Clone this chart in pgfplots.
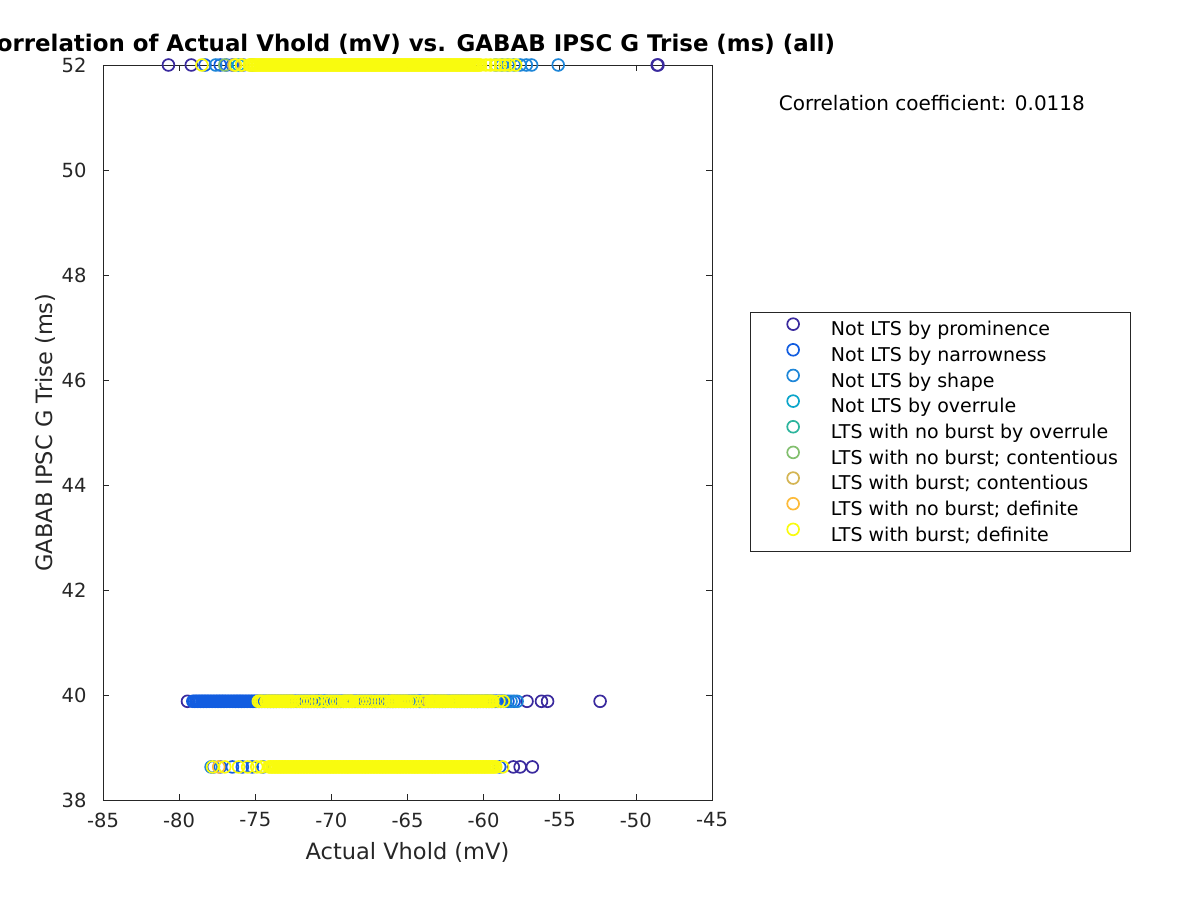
\documentclass[border=0pt]{standalone}
\usepackage{fontspec}
\setmainfont{DejaVu Sans}
\usepackage{pgfplots}
\pgfplotsset{compat=1.18}
\definecolor{c1}{HTML}{3A2A9E}
\definecolor{c2}{HTML}{125DE0}
\definecolor{c3}{HTML}{1E86D8}
\definecolor{c4}{HTML}{0AA5CA}
\definecolor{c5}{HTML}{2DB59D}
\definecolor{c6}{HTML}{82BF6E}
\definecolor{c7}{HTML}{D4B553}
\definecolor{c8}{HTML}{FDBB3A}
\definecolor{c9}{HTML}{F9FB0E}
\definecolor{axgray}{HTML}{262626}
\pgfplotsset{sc/.style={only marks, mark=o, mark size=5.9pt, line width=1.7pt, color=#1}}
\begin{document}
\begin{tikzpicture}
\path[use as bounding box, clip] (0pt,0pt) rectangle (1200pt,900pt);
\begin{axis}[
  at={(103pt,100pt)}, anchor=south west,
  scale only axis, width=609pt, height=735pt,
  xmin=-85, xmax=-45, ymin=38, ymax=52,
  xtick={-85,-80,-75,-70,-65,-60,-55,-50,-45},
  xticklabels={-85,-80,-75,-70,-65,-60,-55,-50,-45},
  ytick={38,40,42,44,46,48,50,52},
  yticklabels={38,40,42,44,46,48,50,52},
  tick align=inside, tick pos=both, major tick length=6pt,
  axis line style={axgray, line width=0.6pt},
  every tick/.style={axgray, line width=0.6pt},
  ticklabel style={font=\fontsize{19.5}{23}\selectfont, text=axgray},
  xticklabel style={yshift=-9pt},
  yticklabel style={xshift=-13pt},
  xlabel={Actual Vhold (mV)},
  ylabel={GABAB IPSC G Trise (ms)},
  label style={font=\fontsize{22.5}{27}\selectfont, text=axgray},
  xlabel style={at={(axis description cs:0.5,0)}, anchor=center, yshift=-52pt},
  ylabel style={at={(axis description cs:0,0.5)}, anchor=center, yshift=58pt},
  title={Correlation of Actual Vhold (mV) vs. GABAB IPSC G Trise (ms) (all)},
  title style={font=\fontsize{22.9}{27}\selectfont\bfseries, at={(0.5,1)}, anchor=south, inner sep=0pt, yshift=4pt},
  clip=false,
  legend cell align=left,
  legend style={at={(1.0624,0.664)}, anchor=north west, draw=axgray, line width=0.6pt,
    font=\fontsize{19}{22}\selectfont, inner xsep=12pt, inner ysep=6pt,
    nodes={inner sep=0pt, text height=14pt, text depth=4.5pt},
    row sep=3.5pt, column sep=7pt},
  legend image code/.code={\path (-30pt,0pt) (30pt,0pt); \draw[#1] plot coordinates {(0pt,7pt)};},
]
% 1 Not LTS by prominence
\addplot[sc=c1] coordinates {(-80.7,52) (-79.2,52) (-48.6,52) (-48.55,52)
 (-79.45,39.88) (-57.15,39.88) (-56.2,39.88) (-55.8,39.88) (-52.35,39.88)
 (-58.05,38.63) (-57.6,38.63) (-56.8,38.63)};
\addlegendentry{Not LTS by prominence}
% 2 Not LTS by narrowness
\addplot[sc=c2] coordinates {(-78.3,52) (-77.3,52) (-76.9,52) (-76.5,52) (-75.8,52) (-75.2,52)
 (-79.1,39.88) (-79.0,39.88) (-78.9,39.88) (-78.8,39.88) (-78.7,39.88) (-78.6,39.88) (-78.5,39.88) (-78.4,39.88) (-78.3,39.88) (-78.2,39.88)
 (-78.1,39.88) (-78.0,39.88) (-77.9,39.88) (-77.8,39.88) (-77.7,39.88) (-77.6,39.88) (-77.5,39.88) (-77.4,39.88) (-77.3,39.88) (-77.2,39.88)
 (-77.1,39.88) (-77.0,39.88) (-76.9,39.88) (-76.8,39.88) (-76.7,39.88) (-76.6,39.88) (-76.5,39.88) (-76.4,39.88) (-76.3,39.88) (-76.2,39.88)
 (-76.1,39.88) (-76.0,39.88) (-75.9,39.88) (-75.8,39.88) (-75.7,39.88) (-75.6,39.88) (-75.5,39.88) (-75.4,39.88) (-75.3,39.88) (-75.2,39.88)
 (-75.1,39.88) (-75.0,39.88) (-74.9,39.88) (-74.8,39.88) (-74.7,39.88) (-74.6,39.88) (-74.5,39.88) (-74.4,39.88) (-74.3,39.88) (-74.2,39.88)
 (-74.1,39.88) (-74.0,39.88) (-73.9,39.88) (-73.8,39.88) (-73.7,39.88) (-73.6,39.88) (-73.5,39.88) (-73.4,39.88) (-73.3,39.88) (-73.2,39.88)
 (-73.1,39.88) (-73.0,39.88) (-72.9,39.88) (-72.8,39.88) (-72.7,39.88) (-72.6,39.88) (-72.5,39.88) (-72.4,39.88) (-72.3,39.88) (-72.2,39.88)
 (-72.1,39.88) (-72.0,39.88) (-71.9,39.88) (-71.8,39.88) (-71.7,39.88) (-71.6,39.88) (-71.5,39.88) (-71.4,39.88) (-71.3,39.88) (-71.2,39.88)
 (-71.1,39.88) (-71.0,39.88) (-70.9,39.88) (-70.8,39.88) (-70.7,39.88) (-70.6,39.88) (-70.5,39.88) (-70.4,39.88) (-70.3,39.88) (-70.2,39.88)
 (-70.1,39.88) (-70.0,39.88) (-69.9,39.88) (-69.8,39.88) (-69.7,39.88) (-69.6,39.88) (-69.5,39.88) (-69.4,39.88) (-69.3,39.88) (-69.2,39.88)
 (-69.1,39.88) (-69.0,39.88) (-68.9,39.88) (-68.8,39.88) (-68.7,39.88) (-68.6,39.88) (-68.5,39.88) (-68.4,39.88) (-68.3,39.88) (-68.2,39.88)
 (-68.1,39.88) (-68.0,39.88) (-67.9,39.88) (-67.8,39.88) (-67.7,39.88) (-67.6,39.88) (-67.5,39.88) (-67.4,39.88) (-67.3,39.88) (-67.2,39.88)
 (-67.1,39.88) (-67.0,39.88) (-66.9,39.88) (-66.8,39.88) (-66.7,39.88) (-66.6,39.88) (-66.5,39.88) (-66.4,39.88) (-66.3,39.88) (-66.2,39.88)
 (-66.1,39.88) (-66.0,39.88) (-65.9,39.88) (-65.8,39.88) (-65.7,39.88) (-65.6,39.88) (-65.5,39.88) (-65.4,39.88) (-65.3,39.88) (-65.2,39.88)
 (-65.1,39.88) (-65.0,39.88) (-64.9,39.88) (-64.8,39.88) (-64.7,39.88) (-64.6,39.88) (-64.5,39.88) (-64.4,39.88) (-64.3,39.88) (-64.2,39.88)
 (-64.1,39.88) (-64.0,39.88) (-63.9,39.88) (-63.8,39.88) (-63.7,39.88) (-63.6,39.88) (-63.5,39.88) (-63.4,39.88) (-63.3,39.88) (-63.2,39.88)
 (-63.1,39.88) (-63.0,39.88) (-62.9,39.88) (-62.8,39.88) (-62.7,39.88) (-62.6,39.88) (-62.5,39.88) (-62.4,39.88) (-62.3,39.88) (-62.2,39.88)
 (-62.1,39.88) (-62.0,39.88) (-61.9,39.88) (-61.8,39.88) (-61.7,39.88) (-61.6,39.88) (-61.5,39.88) (-61.4,39.88) (-61.3,39.88) (-61.2,39.88)
 (-61.1,39.88) (-61.0,39.88) (-60.9,39.88) (-60.8,39.88) (-60.7,39.88) (-60.6,39.88) (-60.5,39.88) (-60.4,39.88) (-60.3,39.88) (-60.2,39.88)
 (-60.1,39.88) (-60.0,39.88) (-59.9,39.88) (-59.8,39.88) (-59.7,39.88) (-59.6,39.88) (-59.5,39.88) (-59.4,39.88) (-59.3,39.88) (-59.2,39.88)
 (-59.1,39.88) (-59.0,39.88) (-58.9,39.88) (-58.8,39.88) (-58.7,39.88) (-58.4,39.88) (-58.0,39.88)
 (-77.75,38.63) (-77.3,38.63) (-76.5,38.63) (-75.85,38.63) (-75.2,38.63) (-74.5,38.63) (-58.95,38.63)};
\addlegendentry{Not LTS by narrowness}
% 3 Not LTS by shape
\addplot[sc=c3] coordinates {(-77.6,52) (-59.2,52) (-58.8,52) (-58.4,52) (-58.0,52) (-57.6,52) (-57.2,52) (-56.85,52) (-55.1,52)
 (-58.6,39.88) (-58.2,39.88) (-57.8,39.88) (-70.9,39.88) (-64.2,39.88)
 (-77.9,38.63)};
\addlegendentry{Not LTS by shape}
% 4 Not LTS by overrule
\addplot[sc=c4] coordinates {(-76.1,52) (-63.2,39.88) (-70.4,39.88)};
\addlegendentry{Not LTS by overrule}
% 5 LTS with no burst by overrule
\addplot[sc=c5] coordinates {(-64.6,39.88) (-59.8,39.88)};
\addlegendentry{LTS with no burst by overrule}
% 6 LTS with no burst; contentious
\addplot[sc=c6] coordinates {(-77.0,52) (-60.4,39.88)};
\addlegendentry{LTS with no burst; contentious}
% 7 LTS with burst; contentious
\addplot[sc=c7] coordinates {(-76.4,52) (-63.6,39.88) (-68.7,39.88)};
\addlegendentry{LTS with burst; contentious}
% 8 LTS with no burst; definite
\addplot[sc=c8] coordinates {(-75.9,52) (-63.4,39.88) (-66.0,39.88) (-77.4,38.63)};
\addlegendentry{LTS with no burst; definite}
% 9 LTS with burst; definite
\addplot[sc=c9] coordinates {(-78.5,52) (-76.3,52) (-75.9,52)
 (-75.4,52) (-75.3,52) (-75.2,52) (-75.1,52) (-75.0,52)
 (-74.9,52) (-74.8,52) (-74.7,52) (-74.6,52) (-74.5,52) (-74.4,52) (-74.3,52) (-74.2,52) (-74.1,52) (-74.0,52)
 (-73.9,52) (-73.8,52) (-73.7,52) (-73.6,52) (-73.5,52) (-73.4,52) (-73.3,52) (-73.2,52) (-73.1,52) (-73.0,52)
 (-72.9,52) (-72.8,52) (-72.7,52) (-72.6,52) (-72.5,52) (-72.4,52) (-72.3,52) (-72.2,52) (-72.1,52) (-72.0,52)
 (-71.9,52) (-71.8,52) (-71.7,52) (-71.6,52) (-71.5,52) (-71.4,52) (-71.3,52) (-71.2,52) (-71.1,52) (-71.0,52)
 (-70.9,52) (-70.8,52) (-70.7,52) (-70.6,52) (-70.5,52) (-70.4,52) (-70.3,52) (-70.2,52) (-70.1,52) (-70.0,52)
 (-69.9,52) (-69.8,52) (-69.7,52) (-69.6,52) (-69.5,52) (-69.4,52) (-69.3,52) (-69.2,52) (-69.1,52) (-69.0,52)
 (-68.9,52) (-68.8,52) (-68.7,52) (-68.6,52) (-68.5,52) (-68.4,52) (-68.3,52) (-68.2,52) (-68.1,52) (-68.0,52)
 (-67.9,52) (-67.8,52) (-67.7,52) (-67.6,52) (-67.5,52) (-67.4,52) (-67.3,52) (-67.2,52) (-67.1,52) (-67.0,52)
 (-66.9,52) (-66.8,52) (-66.7,52) (-66.6,52) (-66.5,52) (-66.4,52) (-66.3,52) (-66.2,52) (-66.1,52) (-66.0,52)
 (-65.9,52) (-65.8,52) (-65.7,52) (-65.6,52) (-65.5,52) (-65.4,52) (-65.3,52) (-65.2,52) (-65.1,52) (-65.0,52)
 (-64.9,52) (-64.8,52) (-64.7,52) (-64.6,52) (-64.5,52) (-64.4,52) (-64.3,52) (-64.2,52) (-64.1,52) (-64.0,52)
 (-63.9,52) (-63.8,52) (-63.7,52) (-63.6,52) (-63.5,52) (-63.4,52) (-63.3,52) (-63.2,52) (-63.1,52) (-63.0,52)
 (-62.9,52) (-62.8,52) (-62.7,52) (-62.6,52) (-62.5,52) (-62.4,52) (-62.3,52) (-62.2,52) (-62.1,52) (-62.0,52)
 (-61.9,52) (-61.8,52) (-61.7,52) (-61.6,52) (-61.5,52) (-61.4,52) (-61.3,52) (-61.2,52) (-61.1,52) (-61.0,52)
 (-60.9,52) (-60.8,52) (-60.7,52) (-60.6,52) (-60.5,52) (-60.4,52) (-60.3,52) (-60.2,52)
 (-59.85,52) (-59.55,52) (-59.2,52) (-58.9,52) (-58.6,52) (-58.3,52) (-57.9,52)
 (-74.8,39.88) (-74.7,39.88) (-74.6,39.88) (-74.5,39.88) (-74.3,39.88) (-74.2,39.88) (-74.1,39.88) (-74.0,39.88)
 (-73.9,39.88) (-73.8,39.88) (-73.7,39.88) (-73.6,39.88) (-73.5,39.88) (-73.4,39.88) (-73.3,39.88) (-73.2,39.88) (-73.1,39.88) (-73.0,39.88)
 (-72.9,39.88) (-72.8,39.88) (-72.7,39.88) (-72.6,39.88) (-72.5,39.88)
 (-72.2,39.88) (-72.0,39.88) (-71.8,39.88) (-71.6,39.88) (-71.4,39.88) (-71.2,39.88) (-70.95,39.88) (-70.7,39.88) (-70.3,39.88) (-70.1,39.88) (-69.9,39.88) (-69.7,39.88) (-69.5,39.88)
 (-69.2,39.88) (-69.1,39.88) (-69.0,39.88) (-68.9,39.88) (-68.8,39.88) (-68.7,39.88) (-68.6,39.88)
 (-68.3,39.88) (-68.1,39.88) (-67.9,39.88) (-67.7,39.88) (-67.5,39.88) (-67.3,39.88) (-67.0,39.88) (-66.8,39.88) (-66.6,39.88) (-66.4,39.88)
 (-66.1,39.88) (-66.0,39.88) (-65.9,39.88) (-65.8,39.88) (-65.7,39.88) (-65.6,39.88) (-65.5,39.88) (-65.4,39.88) (-65.3,39.88) (-65.2,39.88) (-65.1,39.88) (-65.0,39.88)
 (-64.8,39.88) (-64.6,39.88) (-64.4,39.88) (-64.0,39.88) (-63.8,39.88)
 (-63.5,39.88) (-63.4,39.88) (-63.3,39.88) (-63.2,39.88) (-63.1,39.88) (-63.0,39.88) (-62.9,39.88) (-62.8,39.88) (-62.7,39.88) (-62.6,39.88) (-62.5,39.88) (-62.4,39.88)
 (-62.2,39.88) (-62.1,39.88) (-62.0,39.88) (-61.9,39.88) (-61.8,39.88) (-61.7,39.88) (-61.6,39.88) (-61.5,39.88) (-61.4,39.88) (-61.3,39.88) (-61.2,39.88)
 (-61.1,39.88) (-61.0,39.88) (-60.9,39.88) (-60.8,39.88) (-60.7,39.88) (-60.6,39.88) (-60.5,39.88) (-60.4,39.88) (-60.3,39.88) (-60.2,39.88)
 (-60.1,39.88) (-60.0,39.88) (-59.9,39.88) (-59.8,39.88) (-59.7,39.88) (-59.6,39.88) (-59.5,39.88) (-59.4,39.88)
 (-59.0,39.88) (-58.7,39.88)
 (-77.8,38.63) (-77.0,38.63) (-76.1,38.63) (-75.5,38.63) (-74.9,38.63) (-74.6,38.63)
 (-74.1,38.63) (-74.0,38.63)
 (-73.9,38.63) (-73.8,38.63) (-73.7,38.63) (-73.6,38.63) (-73.5,38.63) (-73.4,38.63) (-73.3,38.63) (-73.2,38.63) (-73.1,38.63) (-73.0,38.63)
 (-72.9,38.63) (-72.8,38.63) (-72.7,38.63) (-72.6,38.63) (-72.5,38.63) (-72.4,38.63) (-72.3,38.63) (-72.2,38.63) (-72.1,38.63) (-72.0,38.63)
 (-71.9,38.63) (-71.8,38.63) (-71.7,38.63) (-71.6,38.63) (-71.5,38.63) (-71.4,38.63) (-71.3,38.63) (-71.2,38.63) (-71.1,38.63) (-71.0,38.63)
 (-70.9,38.63) (-70.8,38.63) (-70.7,38.63) (-70.6,38.63) (-70.5,38.63) (-70.4,38.63) (-70.3,38.63) (-70.2,38.63) (-70.1,38.63) (-70.0,38.63)
 (-69.9,38.63) (-69.8,38.63) (-69.7,38.63) (-69.6,38.63) (-69.5,38.63) (-69.4,38.63) (-69.3,38.63) (-69.2,38.63) (-69.1,38.63) (-69.0,38.63)
 (-68.9,38.63) (-68.8,38.63) (-68.7,38.63) (-68.6,38.63) (-68.5,38.63) (-68.4,38.63) (-68.3,38.63) (-68.2,38.63) (-68.1,38.63) (-68.0,38.63)
 (-67.9,38.63) (-67.8,38.63) (-67.7,38.63) (-67.6,38.63) (-67.5,38.63) (-67.4,38.63) (-67.3,38.63) (-67.2,38.63) (-67.1,38.63) (-67.0,38.63)
 (-66.9,38.63) (-66.8,38.63) (-66.7,38.63) (-66.6,38.63) (-66.5,38.63) (-66.4,38.63) (-66.3,38.63) (-66.2,38.63) (-66.1,38.63) (-66.0,38.63)
 (-65.9,38.63) (-65.8,38.63) (-65.7,38.63) (-65.6,38.63) (-65.5,38.63) (-65.4,38.63) (-65.3,38.63) (-65.2,38.63) (-65.1,38.63) (-65.0,38.63)
 (-64.9,38.63) (-64.8,38.63) (-64.7,38.63) (-64.6,38.63) (-64.5,38.63) (-64.4,38.63) (-64.3,38.63) (-64.2,38.63) (-64.1,38.63) (-64.0,38.63)
 (-63.9,38.63) (-63.8,38.63) (-63.7,38.63) (-63.6,38.63) (-63.5,38.63) (-63.4,38.63) (-63.3,38.63) (-63.2,38.63) (-63.1,38.63) (-63.0,38.63)
 (-62.9,38.63) (-62.8,38.63) (-62.7,38.63) (-62.6,38.63) (-62.5,38.63) (-62.4,38.63) (-62.3,38.63) (-62.2,38.63) (-62.1,38.63) (-62.0,38.63)
 (-61.9,38.63) (-61.8,38.63) (-61.7,38.63) (-61.6,38.63) (-61.5,38.63) (-61.4,38.63) (-61.3,38.63) (-61.2,38.63) (-61.1,38.63) (-61.0,38.63)
 (-60.9,38.63) (-60.8,38.63) (-60.7,38.63) (-60.6,38.63) (-60.5,38.63) (-60.4,38.63) (-60.3,38.63) (-60.2,38.63) (-60.1,38.63) (-60.0,38.63)
 (-59.9,38.63) (-59.8,38.63) (-59.7,38.63) (-59.6,38.63) (-59.5,38.63) (-59.4,38.63) (-59.3,38.63) (-59.2,38.63)
 (-58.75,38.63)};
\addlegendentry{LTS with burst; definite}
\node[font=\fontsize{20}{24}\selectfont, text=black] at (rel axis cs:1.361,0.948) {Correlation coefficient: 0.0118};
\end{axis}
\end{tikzpicture}
\end{document}
